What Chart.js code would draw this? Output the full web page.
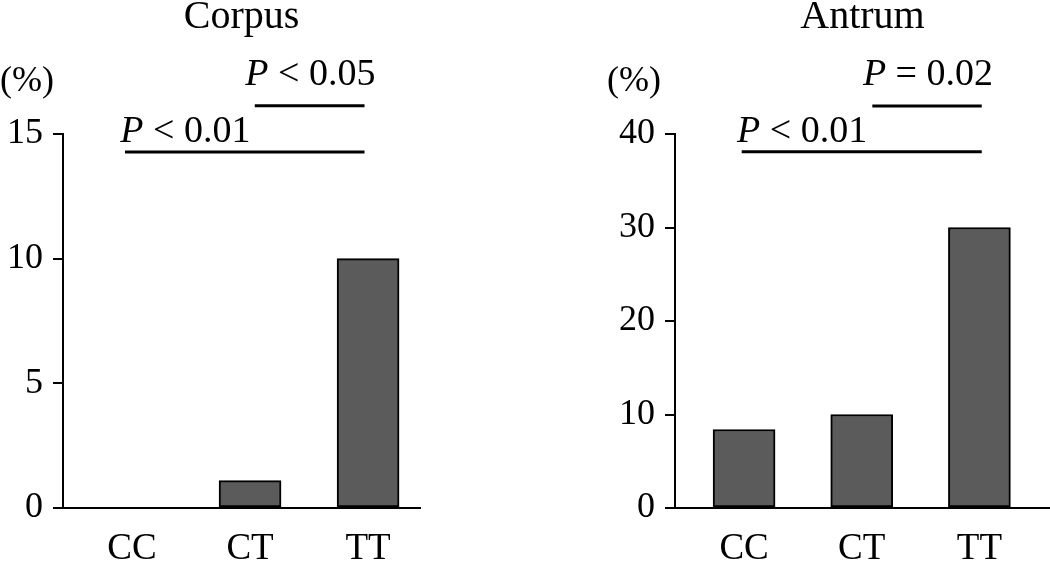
<!DOCTYPE html>
<html>
<head>
<meta charset="utf-8">
<script src="https://cdn.jsdelivr.net/npm/chart.js@4"></script>
<style>
  body { margin: 0; background: #fff; }
  #wrap { position: relative; width: 1050px; height: 561px; }
  canvas { position: absolute; top: 0; }
</style>
</head>
<body>
<div id="wrap">
  <canvas id="corpus" width="440" height="561" style="left:0"></canvas>
  <canvas id="antrum" width="525" height="561" style="left:525px"></canvas>
</div>
<script>
const genotypes = ['CC', 'CT', 'TT'];
const corpusValues = [0, 1.1, 10];
const antrumValues = [8.4, 10, 30];
const corpusTicks = [0, 5, 10, 15];
const antrumTicks = [0, 10, 20, 30, 40];

// significance brackets: line from/to in category units, y in value units
const corpusBrackets = [
  { text: '< 0.01', from: -0.06, to: 1.97, y: 14.28, textX: -0.10, textY: 14.68 },
  { text: '< 0.05', from: 1.04, to: 1.97, y: 16.13, textX: 0.96, textY: 16.97 }
];
const antrumBrackets = [
  { text: '< 0.01', from: -0.02, to: 2.02, y: 38.1, textX: -0.06, textY: 39.1 },
  { text: '= 0.02', from: 1.09, to: 2.02, y: 43.0, textX: 1.01, textY: 45.2 }
];

const serif = '"Liberation Serif", "Times New Roman", serif';

const extras = {
  id: 'extras',
  afterDraw(chart, args, opts) {
    const ctx = chart.ctx;
    const xs = chart.scales.x, ys = chart.scales.y;
    const area = chart.chartArea;
    ctx.save();
    ctx.fillStyle = '#000';
    ctx.strokeStyle = '#000';
    // title
    ctx.font = '40px ' + serif;
    ctx.textAlign = 'center';
    ctx.textBaseline = 'alphabetic';
    ctx.fillText(opts.title, (area.left + area.right) / 2, 28);
    // unit label
    ctx.font = '36px ' + serif;
    ctx.textAlign = 'left';
    ctx.fillText('(%)', opts.unitX, 91);
    // brackets
    ctx.lineWidth = 3;
    opts.brackets.forEach(b => {
      const y = ys.getPixelForValue(b.y);
      ctx.beginPath();
      ctx.moveTo(xs.getPixelForValue(b.from), y);
      ctx.lineTo(xs.getPixelForValue(b.to), y);
      ctx.stroke();
      let tx = xs.getPixelForValue(b.textX);
      const ty = ys.getPixelForValue(b.textY);
      ctx.font = 'italic 38px ' + serif;
      ctx.fillText('P', tx, ty);
      tx += ctx.measureText('P ').width;
      ctx.font = '38px ' + serif;
      ctx.fillText(b.text, tx, ty);
    });
    ctx.restore();
  }
};

function makeChart(id, values, ticks, brackets, title, xMin, xMax, yWidth, unitX, padRight) {
  new Chart(document.getElementById(id), {
    type: 'bar',
    data: {
      datasets: [{
        data: values.map((v, i) => ({ x: i, y: v })),
        backgroundColor: '#5b5b5b',
        borderColor: '#000',
        borderWidth: 2,
        borderSkipped: false,
        barThickness: 62
      }]
    },
    options: {
      responsive: false,
      animation: false,
      layout: { padding: { top: 134, right: padRight, left: 0, bottom: 0 } },
      plugins: {
        legend: { display: false },
        tooltip: { enabled: false },
        extras: { title: title, brackets: brackets, unitX: unitX }
      },
      scales: {
        x: {
          type: 'linear',
          offset: false,
          min: xMin,
          max: xMax,
          afterBuildTicks: s => { s.ticks = genotypes.map((g, i) => ({ value: i })); },
          afterFit: s => { s.height = 53; },
          grid: { display: false, drawTicks: false },
          border: { display: true, color: '#000', width: 2 },
          ticks: {
            color: '#000',
            font: { family: serif, size: 37 },
            padding: 19,
            maxRotation: 0,
            callback: v => genotypes[v]
          }
        },
        y: {
          min: 0,
          max: ticks[ticks.length - 1],
          afterBuildTicks: s => { s.ticks = ticks.map(v => ({ value: v })); },
          afterFit: s => { s.width = yWidth; },
          grid: { drawOnChartArea: false, drawTicks: true, tickLength: 10, color: '#000', lineWidth: 2 },
          border: { display: true, color: '#000', width: 2 },
          ticks: {
            color: '#000',
            font: { family: serif, size: 36 },
            padding: 10
          }
        }
      }
    },
    plugins: [extras]
  });
}

makeChart('corpus', corpusValues, corpusTicks, corpusBrackets, 'Corpus', -0.585, 2.44, 63, 0, 20);
makeChart('antrum', antrumValues, antrumTicks, antrumBrackets, 'Antrum', -0.587, 2.6, 150, 82, 0);
</script>
</body>
</html>
